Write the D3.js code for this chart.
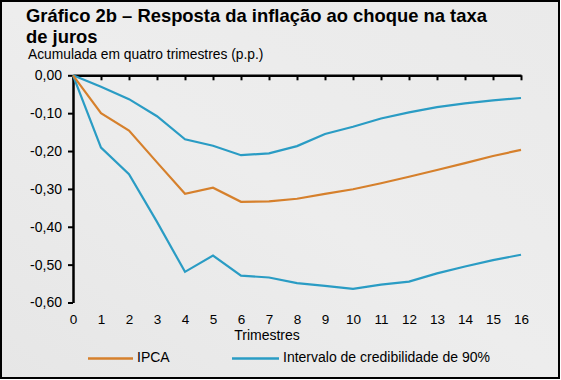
<!DOCTYPE html>
<html><head><meta charset="utf-8">
<script src="https://cdn.jsdelivr.net/npm/d3@7"></script>
<style>body{margin:0;background:#fff}svg{display:block}text{font-family:"Liberation Sans",Arial,sans-serif}</style>
</head><body>
<script>
const quarters = d3.range(0, 17);
const ipca  = [0, -0.100, -0.146, -0.230, -0.313, -0.297, -0.334, -0.333, -0.326, -0.313, -0.301, -0.285, -0.268, -0.250, -0.232, -0.213, -0.197];
const upper = [0, -0.030, -0.063, -0.108, -0.169, -0.186, -0.211, -0.206, -0.187, -0.155, -0.136, -0.114, -0.098, -0.084, -0.074, -0.066, -0.060];
const lower = [0, -0.191, -0.261, -0.387, -0.519, -0.476, -0.529, -0.534, -0.549, -0.556, -0.564, -0.553, -0.545, -0.523, -0.505, -0.488, -0.474];
const yTicks = [0, -0.1, -0.2, -0.3, -0.4, -0.5, -0.6];
const titleLines = ["Gráfico 2b – Resposta da inflação ao choque na taxa", "de juros"];

const W = 561, H = 380;
const svg = d3.select("body").append("svg").attr("width", W).attr("height", H);
const grad = svg.append("defs").append("linearGradient").attr("id","bg").attr("x1","0").attr("y1","1").attr("x2","1").attr("y2","0");
grad.append("stop").attr("offset","0").attr("stop-color","#e6e6e6");
grad.append("stop").attr("offset","0.5").attr("stop-color","#ededed");
grad.append("stop").attr("offset","1").attr("stop-color","#eaeaea");
svg.append("rect").attr("x",1).attr("y",1).attr("width",W-3).attr("height",H-3)
  .attr("fill","url(#bg)").attr("stroke","#000").attr("stroke-width",2);

const x = d3.scaleLinear().domain([0,16]).range([73,521]);
const y = d3.scaleLinear().domain([-0.6,0]).range([302.5,75.3]);
const fmt = d => d3.format(".2f")(d).replace(".", ",").replace("−","-");

// y axis
const ya = svg.append("g").attr("transform",`translate(${x(0)},0)`)
  .call(d3.axisLeft(y).tickValues(yTicks).tickSize(5).tickSizeOuter(0).tickFormat(fmt));
ya.select(".domain").attr("stroke","#000").attr("stroke-width",2.5);
ya.selectAll(".tick line").attr("stroke","#000").attr("stroke-width",2);
ya.selectAll(".tick text").attr("font-size",14).attr("fill","#000").attr("x",-11).attr("font-family","Liberation Sans, Arial, sans-serif");

// x axis line at zero with ticks downward
const xa = svg.append("g").attr("transform",`translate(0,${y(0)})`)
  .call(d3.axisBottom(x).tickValues(quarters).tickSize(5).tickSizeOuter(0).tickFormat(""));
xa.select(".domain").attr("stroke","#000").attr("stroke-width",2.5);
xa.selectAll(".tick line").attr("stroke","#000").attr("stroke-width",2);

// x labels at bottom
const xb = svg.append("g").attr("transform",`translate(0,${y(-0.6)})`)
  .call(d3.axisBottom(x).tickValues(quarters).tickSize(0).tickPadding(12).tickFormat(d=>d));
xb.select(".domain").remove();
xb.selectAll(".tick text").attr("font-size",13.5).attr("fill","#000").attr("font-family","Liberation Sans, Arial, sans-serif");

const line = d3.line().x((d,i)=>x(quarters[i])).y(d=>y(d));
const blue = "#2a9cc4", orange = "#d6802c";
[[upper,blue],[lower,blue],[ipca,orange]].forEach(([s,c])=>{
  svg.append("path").datum(s).attr("d",line).attr("fill","none").attr("stroke",c).attr("stroke-width",2.2);
});

svg.append("text").attr("x",267).attr("y",340).attr("text-anchor","middle").attr("font-size",14).text("Trimestres");

// title (one text block, two lines)
const title = svg.append("text").attr("x",26).attr("y",21.5).attr("font-size",18.4).attr("font-weight","bold");
titleLines.forEach((t,i)=>{
  title.append("tspan").attr("x",26).attr("y",21.5 + i*21).text(t);
});
svg.append("text").attr("x",28).attr("y",59).attr("font-size",13.8).text("Acumulada em quatro trimestres (p.p.)");

// legend
const leg = [["IPCA",orange,88,133],["Intervalo de credibilidade de 90%",blue,232,279]];
leg.forEach(([t,c,x1,x2])=>{
  svg.append("line").attr("x1",x1).attr("x2",x2).attr("y1",358.5).attr("y2",358.5).attr("stroke",c).attr("stroke-width",2.5);
  svg.append("text").attr("x",x2+4).attr("y",362).attr("font-size",14).text(t);
});
</script>
</body></html>
